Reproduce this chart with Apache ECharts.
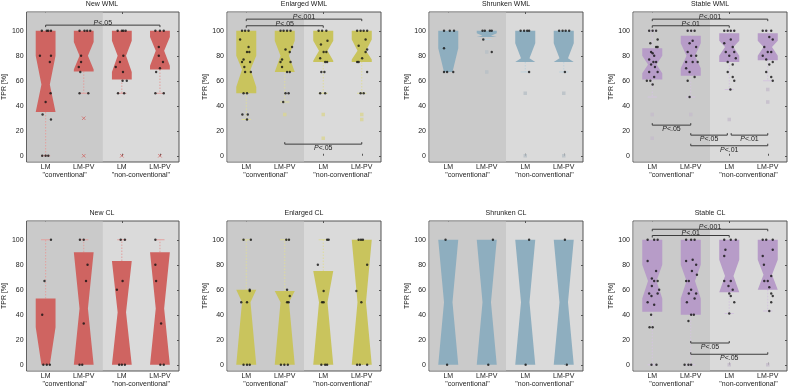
<!DOCTYPE html>
<html>
<head>
<meta charset="utf-8">
<script src="https://cdn.jsdelivr.net/npm/echarts@6/dist/echarts.min.js"></script>
<style>
  html, body { margin: 0; padding: 0; background: #fff; }
  #chart { width: 789px; height: 388px; }
</style>
</head>
<body>
<div id="chart"></div>
<script>
// Initialize the echarts instance based on the prepared dom
const myChart = echarts.init(document.getElementById('chart'));

const FONT = 'Liberation Sans';

const categories = ['LM', 'LM-PV', 'LM', 'LM-PV'];
const groupLabels = ['"conventional"', '"non-conventional"'];
const yTicks = [0, 20, 40, 60, 80, 100];
const yMin = -5;
const yMax = 115;

// boxes: [whiskerLow, q1, notchLow, median, notchHigh, q3, whiskerHigh] per category
const newWmlBoxes = [
    [0, 35, 35, 57, 80, 100, 100],
    [50, 67.5, 69, 80, 91, 100, 100],
    [50, 61, 67, 80, 92, 100, 100],
    [50, 69, 72, 84, 95, 100, 100]
];
const enlargedWmlBoxes = [
    [29, 50, 55, 69, 80, 100, 100],
    [43, 67, 67, 80, 92, 100, 100],
    [50, 75, 76, 84, 92, 100, 100],
    [50, 75, 77, 84, 93, 100, 100]
];
const shrunkenWmlBoxes = [
    [67, 67, 67, 67, 86, 100, 100],
    [93, 95, 95, 96, 98, 100, 100],
    [67, 75, 75, 78, 90, 100, 100],
    [67, 75, 75, 78, 90, 100, 100]
];
const stableWmlBoxes = [
    [47, 61, 66, 73, 80, 86, 100],
    [47, 64, 70, 80, 90, 96, 100],
    [53, 75, 80, 87, 92, 98, 100],
    [60, 76.5, 80, 87, 92, 98, 100]
];
const newClBoxes = [
    [0, 0, 0, 0, 30, 53, 100],
    [0, 0, 0, 45, 90, 90, 100],
    [0, 0, 0, 42, 83, 83, 100],
    [0, 0, 0, 45, 90, 90, 100]
];
const enlargedClBoxes = [
    [0, 0, 0, 50, 60, 60, 100],
    [0, 0, 0, 50, 59, 59, 100],
    [0, 0, 0, 50, 75, 75, 100],
    [0, 0, 0, 50, 100, 100, 100]
];
const shrunkenClBoxes = [
    [0, 0, 0, 50, 100, 100, 100],
    [0, 0, 0, 50, 100, 100, 100],
    [0, 0, 0, 50, 100, 100, 100],
    [0, 0, 0, 50, 100, 100, 100]
];
const stableClBoxes = [
    [0, 42.5, 53, 67, 80, 100, 100],
    [0, 40, 53, 67, 80, 100, 100],
    [41, 58, 58, 71, 84, 100, 100],
    [43, 60, 60, 72, 84, 100, 100]
];

// individual subjects: [category + jitter, TPR]
const newWmlPoints = [
    [-0.10, 100], [0.03, 100], [0.07, 100], [0.14, 100], [-0.15, 80], [0.14, 80], [0.11, 75], [0.13, 50], [0, 43], [-0.08, 33], [0.14, 29], [-0.09, 0], [0, 0], [0.07, 0],
    [0.89, 100], [1.02, 100], [1.09, 100], [1.17, 100], [0.93, 80], [0.93, 75], [0.87, 71], [0.91, 67], [0.89, 50], [1.12, 50],
    [1.89, 100], [2, 100], [2.04, 100], [2.1, 100], [2.04, 80], [1.95, 75], [1.84, 71], [2.03, 67], [2.02, 60], [2.13, 60], [1.9, 50], [2.06, 50],
    [2.88, 100], [3, 100], [3.1, 100], [2.97, 87], [2.97, 80], [3.08, 75], [3, 70], [2.9, 67], [2.88, 50], [3.1, 50]
];
const enlargedWmlPoints = [
    [-0.11, 100], [-0.03, 100], [0.06, 100], [-0.16, 93], [0.06, 87], [0.02, 83], [0.08, 83], [-0.07, 77], [-0.11, 75], [0.1, 75], [-0.05, 71], [-0.03, 67], [0.12, 67], [-0.07, 50], [0.02, 50], [-0.1, 33], [0.04, 33], [0.02, 29],
    [0.89, 100], [0.97, 100], [1.06, 100], [1.15, 100], [1.19, 87], [1.02, 85], [1.13, 83], [0.93, 77], [0.89, 75], [1.15, 75], [0.93, 71], [1.06, 67], [1.13, 67], [1.02, 50], [1.1, 50], [0.96, 43],
    [1.88, 100], [1.97, 100], [2.08, 100], [2.11, 92], [1.94, 89], [2.01, 83], [2.08, 83], [1.92, 78], [2.05, 75], [2.1, 75], [1.95, 67], [2.03, 67], [1.92, 50], [2.05, 50],
    [2.88, 100], [2.97, 100], [3.05, 100], [3.14, 100], [3.1, 93], [2.92, 88], [3.14, 85], [3.1, 83], [3.01, 78], [2.88, 75], [2.92, 75], [3.14, 67], [2.97, 50], [3.05, 50]
];
const shrunkenWmlPoints = [
    [-0.11, 100], [0.04, 100], [0.15, 100], [-0.11, 86], [-0.11, 67], [-0.03, 67], [0.13, 67],
    [0.89, 100], [0.95, 100], [1.08, 100], [1.13, 100], [0.91, 93], [1.13, 83],
    [1.88, 100], [1.97, 100], [2.05, 100], [2.1, 100], [2.1, 67],
    [2.88, 100], [2.97, 100], [3.05, 100], [3.14, 100], [3.03, 67]
];
const stableWmlPoints = [
    [-0.08, 100], [0.01, 100], [0.1, 100], [0.14, 93], [-0.05, 90], [0.1, 87], [0.14, 87], [-0.03, 83], [0.01, 82], [0.05, 80], [-0.08, 77], [0.03, 75], [0.1, 75], [-0.03, 73], [0.07, 71], [-0.08, 67], [0.14, 67], [0.05, 63], [-0.14, 60], [-0.05, 60], [0.01, 57],
    [0.92, 100], [1.01, 100], [1.1, 100], [1.05, 92], [0.97, 90], [1.14, 87], [0.92, 83], [1.01, 80], [1.14, 80], [0.88, 75], [1.05, 75], [1.18, 75], [0.88, 70], [0.97, 67], [1.1, 63], [0.92, 60], [0.97, 47],
    [1.87, 100], [1.96, 100], [2.04, 100], [2.13, 100], [2.04, 93], [1.87, 90], [2.09, 87], [1.91, 83], [2.13, 83], [2, 80], [2.17, 78], [1.96, 75], [2.09, 73], [1.96, 67], [2.09, 63], [2.13, 60], [2.03, 53],
    [2.87, 100], [2.96, 100], [3.09, 100], [3.04, 95], [3.13, 93], [2.91, 87], [3, 83], [3.09, 83], [2.87, 80], [2.96, 77], [3.13, 75], [3.04, 73], [2.96, 67], [3.09, 63], [3.13, 60]
];
const newClPoints = [
    [0.14, 100], [-0.03, 67], [-0.09, 40], [-0.06, 0], [0.03, 0], [0.11, 0],
    [0.9, 100], [1, 100], [1.1, 80], [1.06, 67], [1, 33], [0.89, 0], [0.96, 0],
    [1.97, 100], [2.08, 100], [2.02, 67], [1.87, 60], [1.93, 0], [2, 0], [2.08, 0],
    [2.88, 100], [2.88, 80], [2.9, 67], [3.03, 33], [3.01, 0], [3.1, 0]
];
const enlargedClPoints = [
    [-0.07, 100], [0.12, 100], [0.09, 60], [0.09, 59], [-0.13, 50], [0.02, 50], [-0.07, 0], [0.02, 0], [0.09, 0],
    [1.04, 100], [1.11, 100], [1.06, 60], [1.13, 55], [1.06, 50], [1.1, 50], [0.9, 0], [0.99, 0], [1.08, 0],
    [2.1, 100], [2.14, 100], [1.86, 80], [2.01, 59], [1.97, 50], [2.01, 50], [1.95, 0], [2.05, 0], [2.1, 0],
    [2.92, 100], [2.98, 100], [3.03, 100], [3.14, 80], [2.86, 59], [2.99, 50], [2.88, 0], [2.95, 0], [3.14, 0]
];
const shrunkenClPoints = [
    [-0.07, 100], [-0.03, 0], [1.16, 100], [1.04, 0], [2.1, 100], [2.01, 0], [3.03, 100], [3.08, 0]
];
const stableClPoints = [
    [-0.12, 100], [0.05, 100], [0.14, 100], [-0.12, 83], [0.1, 75], [-0.01, 69], [0.05, 67], [0.14, 67], [-0.01, 63], [0.18, 60], [-0.08, 57], [0.14, 57], [-0.02, 55], [-0.12, 50], [0.05, 48], [-0.03, 40], [-0.07, 30], [0.01, 30], [-0.02, 0], [0.11, 0],
    [0.88, 100], [1.01, 100], [1.1, 100], [1.05, 84], [0.88, 83], [1.14, 80], [1.03, 75], [1.16, 72], [0.88, 67], [0.95, 67], [1.01, 60], [1.14, 57], [0.95, 57], [1.1, 53], [0.9, 50], [1.01, 40], [1.08, 40], [0.94, 35], [0.84, 0], [0.94, 0], [1.01, 0],
    [1.87, 100], [2.04, 100], [2.17, 100], [1.9, 92], [1.87, 87], [1.87, 67], [2.04, 67], [1.98, 63], [2.09, 60], [2, 57], [2.04, 55], [2.13, 50], [2, 41],
    [2.87, 100], [2.96, 100], [3.13, 100], [3.13, 92], [2.87, 87], [2.9, 80], [3.09, 71], [2.91, 67], [3, 67], [3.04, 62], [3.09, 57], [3.13, 55], [3.09, 50], [3.04, 43]
];

// outliers: [category, TPR]
const newWmlOutliers = [[1, 30], [1, 0], [2, 0], [3, 0]];
const enlargedWmlOutliers = [[1, 33], [2, 33], [2, 14], [3, 33], [3, 29]];
const shrunkenWmlOutliers = [[1, 83], [1, 67], [2, 50], [2, 0], [3, 50], [3, 0]];
const stableWmlOutliers = [[0, 33], [0, 14], [1, 33], [2, 29], [3, 53], [3, 43]];
const newClOutliers = [];
const enlargedClOutliers = [];
const shrunkenClOutliers = [];
const stableClOutliers = [[2, 0], [3, 0]];

// significance brackets: [from, to, y, label, 1 = above / -1 = below]
const newWmlSigs = [[0, 3, 104.5, 'P<.05', 1]];
const enlargedWmlSigs = [[0, 3, 109.3, 'P<.001', 1], [0, 2, 104, 'P<.05', 1], [1, 3, 9.3, 'P<.05', -1]];
const shrunkenWmlSigs = [];
const stableWmlSigs = [
    [0, 3, 109.3, 'P<.001', 1], [0, 2, 104, 'P<.01', 1], [0, 1, 24.5, 'P<.05', -1],
    [1, 1.95, 16.5, 'P<.05', -1], [2.05, 3, 16.5, 'P<.01', -1], [1, 3, 8, 'P<.01', -1]
];
const newClSigs = [];
const enlargedClSigs = [];
const shrunkenClSigs = [];
const stableClSigs = [[0, 3, 108.4, 'P<.001', 1], [0, 2, 103.4, 'P<.01', 1], [1, 2, 17.4, 'P<.05', -1], [1, 3, 8.4, 'P<.05', -1]];

// colores de las cajas
const red = {fill: '#cf6461', light: '#e2a09e', outlier: '#d06a68'};
const yellow = {fill: '#c9c45d', light: '#dedb9c', outlier: '#d9d592'};
const blue = {fill: '#8eaebf', light: '#bfd1db', outlier: '#b6bfc5'};
const purple = {fill: '#b79cc8', light: '#d3c4de', outlier: '#c4bccb'};

const panels = [
    {title: 'New WML', boxes: newWmlBoxes, points: newWmlPoints, outliers: newWmlOutliers, sigs: newWmlSigs, color: red, cross: true},
    {title: 'Enlarged WML', boxes: enlargedWmlBoxes, points: enlargedWmlPoints, outliers: enlargedWmlOutliers, sigs: enlargedWmlSigs, color: yellow},
    {title: 'Shrunken WML', boxes: shrunkenWmlBoxes, points: shrunkenWmlPoints, outliers: shrunkenWmlOutliers, sigs: shrunkenWmlSigs, color: blue},
    {title: 'Stable WML', boxes: stableWmlBoxes, points: stableWmlPoints, outliers: stableWmlOutliers, sigs: stableWmlSigs, color: purple},
    {title: 'New CL', boxes: newClBoxes, points: newClPoints, outliers: newClOutliers, sigs: newClSigs, color: red, cross: true},
    {title: 'Enlarged CL', boxes: enlargedClBoxes, points: enlargedClPoints, outliers: enlargedClOutliers, sigs: enlargedClSigs, color: yellow},
    {title: 'Shrunken CL', boxes: shrunkenClBoxes, points: shrunkenClPoints, outliers: shrunkenClOutliers, sigs: shrunkenClSigs, color: blue},
    {title: 'Stable CL', boxes: stableClBoxes, points: stableClPoints, outliers: stableClOutliers, sigs: stableClSigs, color: purple}
];

const gridLefts = [25, 227, 429, 633];
const gridTops = [12, 221];
const gridWidth = 154;
const gridHeight = 150;

// caja con muesca (notched box), whiskers punteados
function makeBoxRenderer(color) {
    return function (params, api) {
        const c = api.value(0);
        const v = [1, 2, 3, 4, 5, 6, 7].map(i => api.value(i));
        const [wLo, q1, nLo, med, nHi, q3, wHi] = v;
        const hw = 0.26, nw = 0.11, cw = 0.12;
        const pt = (dx, y) => api.coord([c + dx, y]);
        const children = [];
        const whisker = (y0, y1) => {
            const a = pt(0, y0), b = pt(0, y1);
            children.push({type: 'line', shape: {x1: a[0], y1: a[1], x2: b[0], y2: b[1]},
                style: {stroke: color.light, lineWidth: 1, lineDash: [1.5, 1.5]}});
            const l = pt(-cw, y1), r = pt(cw, y1);
            children.push({type: 'line', shape: {x1: l[0], y1: l[1], x2: r[0], y2: r[1]},
                style: {stroke: color.light, lineWidth: 1}});
        };
        if (wHi > q3) whisker(q3, wHi);
        if (wLo < q1) whisker(q1, wLo);
        const poly = [
            pt(-hw, q3), pt(-hw, nHi), pt(-nw, med), pt(-hw, nLo), pt(-hw, q1),
            pt(hw, q1), pt(hw, nLo), pt(nw, med), pt(hw, nHi), pt(hw, q3)
        ];
        children.push({type: 'polygon', shape: {points: poly}, style: {fill: color.fill, stroke: null}});
        return {type: 'group', children: children};
    };
}

function makeSigRenderer(sigs) {
    return function (params, api) {
        const s = sigs[params.dataIndex];
        const a = api.coord([s[0], s[2]]);
        const b = api.coord([s[1], s[2]]);
        const dir = s[4];
        const tick = 2 * dir;
        return {
            type: 'group',
            children: [
                {type: 'polyline', shape: {points: [[a[0], a[1] + tick], a, b, [b[0], b[1] + tick]]},
                    style: {stroke: '#3c3c3c', lineWidth: 1, fill: null}},
                {type: 'text', style: {
                    text: '{p|P}' + s[3].slice(1),
                    x: (a[0] + b[0]) / 2,
                    y: dir > 0 ? a[1] + 1.5 : a[1] + 0.5,
                    align: 'center',
                    verticalAlign: dir > 0 ? 'bottom' : 'top',
                    fontSize: 7, fontFamily: FONT, fill: '#222',
                    rich: {p: {fontStyle: 'italic', fontSize: 7, fontFamily: FONT, fill: '#222'}}
                }}
            ]
        };
    };
}

const option = {
    backgroundColor: '#fff',
    animation: false,
    title: [],
    grid: [],
    xAxis: [],
    yAxis: [],
    series: []
};

panels.forEach((p, i) => {
    const left = gridLefts[i % 4];
    const top = gridTops[Math.floor(i / 4)];

    option.title.push({
        text: p.title,
        left: left + gridWidth / 2,
        top: top - 11,
        padding: 0,
        textAlign: 'center',
        textStyle: {fontSize: 7, fontWeight: 'normal', fontFamily: FONT, color: '#222'}
    });

    option.grid.push({
        left: left, top: top, width: gridWidth, height: gridHeight,
        show: true, backgroundColor: '#dadada', borderColor: '#555', borderWidth: 1
    });

    // eje de categorias (LM, LM-PV)
    option.xAxis.push({
        type: 'category', gridIndex: i, data: categories, position: 'bottom',
        axisLine: {show: false},
        axisTick: {show: true, inside: true, alignWithLabel: true, length: 2, lineStyle: {color: '#555'}},
        axisLabel: {fontSize: 7, fontFamily: FONT, color: '#222', margin: 2}
    });
    // segunda linea: "conventional" / "non-conventional"
    option.xAxis.push({
        type: 'category', gridIndex: i, data: groupLabels, position: 'bottom', offset: 7.5,
        axisLine: {show: false}, axisTick: {show: false},
        axisLabel: {fontSize: 7, fontFamily: FONT, color: '#222', margin: 2}
    });
    // ticks arriba
    option.xAxis.push({
        type: 'category', gridIndex: i, data: categories, position: 'top',
        axisLine: {show: false},
        axisTick: {show: true, inside: true, alignWithLabel: true, length: 2, lineStyle: {color: '#555'}},
        axisLabel: {show: false}
    });
    // eje numerico oculto para posicionar las marcas
    option.xAxis.push({
        type: 'value', gridIndex: i, min: -0.5, max: 3.5, show: false
    });

    option.yAxis.push({
        type: 'value', gridIndex: i, min: yMin, max: yMax, position: 'left',
        name: 'TPR [%]', nameLocation: 'middle', nameGap: 12, nameRotate: 90,
        nameTextStyle: {fontSize: 7, fontFamily: FONT, color: '#222'},
        axisLine: {show: false},
        axisTick: {show: true, inside: true, length: 2, customValues: yTicks, lineStyle: {color: '#555'}},
        axisLabel: {fontSize: 7, fontFamily: FONT, color: '#222', margin: 3, customValues: yTicks},
        splitLine: {show: false}
    });
    option.yAxis.push({
        type: 'value', gridIndex: i, min: yMin, max: yMax, position: 'right',
        axisLine: {show: false},
        axisTick: {show: true, inside: true, length: 2, customValues: yTicks, lineStyle: {color: '#555'}},
        axisLabel: {show: false},
        splitLine: {show: false}
    });

    const xIdx = i * 4 + 3;
    const yIdx = i * 2;

    // fondo mas oscuro para "conventional"
    option.series.push({
        type: 'custom', xAxisIndex: xIdx, yAxisIndex: yIdx, silent: true, z: 1,
        data: [[0]],
        renderItem: (params, api) => {
            const a = api.coord([-0.5, yMax]);
            const b = api.coord([1.5, yMin]);
            return {type: 'rect', shape: {x: a[0] + 0.5, y: a[1] + 0.5, width: b[0] - a[0] - 0.5, height: b[1] - a[1] - 1},
                style: {fill: '#cacaca'}};
        }
    });

    option.series.push({
        type: 'custom', xAxisIndex: xIdx, yAxisIndex: yIdx, silent: true, z: 2,
        data: p.boxes.map((b, k) => [k].concat(b)),
        renderItem: makeBoxRenderer(p.color)
    });

    option.series.push({
        type: 'scatter', xAxisIndex: xIdx, yAxisIndex: yIdx, silent: true, z: 3,
        data: p.outliers,
        symbol: p.cross ? 'path://M0,0L10,10M10,0L0,10' : 'rect',
        symbolSize: 3.5,
        itemStyle: p.cross
            ? {color: 'transparent', borderColor: p.color.outlier, borderWidth: 1}
            : {color: p.color.outlier}
    });

    option.series.push({
        type: 'scatter', xAxisIndex: xIdx, yAxisIndex: yIdx, silent: true, z: 4,
        data: p.points, symbol: 'circle', symbolSize: 2.4,
        itemStyle: {color: '#111'}
    });

    option.series.push({
        type: 'custom', xAxisIndex: xIdx, yAxisIndex: yIdx, silent: true, z: 5,
        data: p.sigs.map(s => [s[0], s[1], s[2]]),
        renderItem: makeSigRenderer(p.sigs)
    });
});

// Display the chart using the configuration items and data just specified.
myChart.setOption(option);
</script>
</body>
</html>
